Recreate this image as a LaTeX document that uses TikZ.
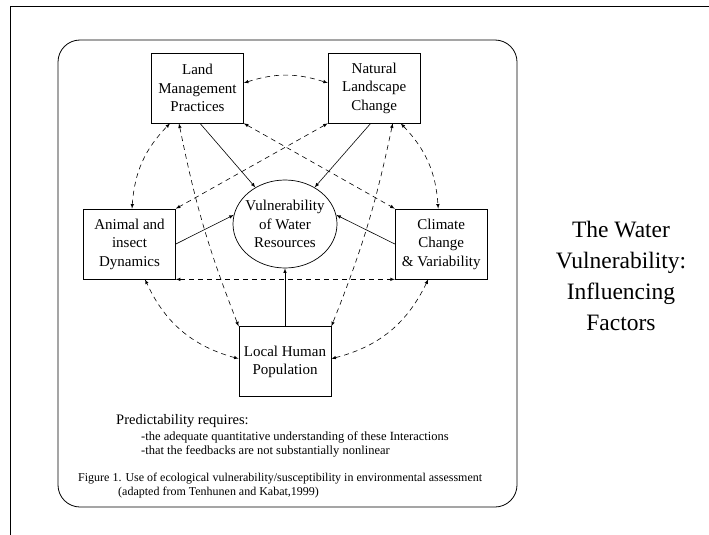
\documentclass[tikz,border=0pt]{standalone}
\usepackage{fontspec}
\setmainfont{Liberation Serif}
\usepackage{tikz}
\usetikzlibrary{positioning}
\usetikzlibrary{shapes.geometric}

\begin{document}
\begin{tikzpicture}[x=1pt, y=-1pt,
    factor/.style={draw, line width=0.7pt, minimum width=92pt, minimum height=70pt, align=center, inner sep=2pt, font=\fontsize{15}{18.5}\selectfont},
    link/.style={line width=0.6pt, -latex},
    feedback/.style={line width=0.6pt, dash pattern=on 5pt off 4pt, latex-latex},
    note/.style={anchor=west, inner sep=0pt}]

    \useasboundingbox (0,0) rectangle (709,535);

    % frame edges and the rounded panel
    \draw [line width=0.8pt] (709,6) -- (10,6) -- (10,535);
    \draw [line width=0.8pt, rounded corners=22pt] (58,40) rectangle (517,507);

    % the ring is its own node so the text may run close to it
    \node [ellipse, draw, line width=0.7pt, minimum width=104pt, minimum height=88pt, inner sep=0pt] (vw) at (285,224) {};
    \node [align=center, inner sep=0pt, font=\fontsize{15}{18.5}\selectfont] (vwt) at (vw.center) {Vulnerability\\of Water\\Resources};

    \node [factor] (lm) at (197.5,88) {Land\\Management\\Practices};
    \node [factor, right=84pt of lm] (nl) {Natural\\Landscape\\Change};
    \node [factor] (ai) at (129.5,244) {Animal and\\insect\\Dynamics};
    \node [factor, right=219pt of ai] (cc) {Climate\\Change\\\& Variability};
    \node [factor, below=58pt of vw] (lh) {Local Human\\Population};
    \draw [line width=1.5pt] (lh.north west) -- (lh.north east);

    % direct influences
    \draw [link] ([xshift=2.5pt]lm.south) -- (vw.129);
    \draw [link] ([xshift=-3.5pt]nl.south) -- (vw.51);
    \draw [link] (ai.east) -- (vw.170);
    \draw [link] (cc.west) -- (vw.10);
    \draw [link] (lh.north) -- (vw.south);

    % feedbacks
    \draw [feedback] ([yshift=5pt]lm.east) to [bend left=18] ([yshift=5pt]nl.east -| nl.west);
    \draw [feedback] (lm.south east) -- (cc.north west);
    \draw [feedback] (nl.south west) -- (ai.north east);
    \draw [feedback] ([xshift=-18.5pt]lm.south) to [bend right=5] (lh.north west);
    \draw [feedback] ([xshift=18.5pt]nl.south) to [bend left=5] (lh.north east);
    \draw [feedback] ([xshift=2.5pt]ai.north) to [bend left=20] ([xshift=-27.5pt]lm.south);
    \draw [feedback] ([xshift=26.5pt]nl.south) to [bend left=20] ([xshift=-3pt]cc.north);
    \draw [feedback] (ai.south east) -- (cc.south west);
    \draw [feedback] ([yshift=3pt]lh.west) to [bend left=25] ([xshift=15.5pt]ai.south);
    \draw [feedback] ([xshift=-13pt]cc.south) to [bend left=25] ([yshift=3pt]lh.east);

    \node [note, font=\fontsize{14.5}{16}\selectfont] (pr) at (116,421) {Predictability requires:};
    \node [note, font=\fontsize{12.5}{14}\selectfont] (q1) at (141,437) {-the adequate quantitative understanding of these Interactions};
    \node [note, font=\fontsize{12.5}{14}\selectfont] (q2) at (141,451) {-that the feedbacks are not substantially nonlinear};
    \node [note, font=\fontsize{12}{14}\selectfont] (fig) at (78,479) {Figure 1. Use of ecological vulnerability/susceptibility in environmental assessment};
    \node [note, font=\fontsize{12}{14}\selectfont] (src) at (118,493) {(adapted from Tenhunen and Kabat,1999)};

    \node [align=center, font=\fontsize{23.5}{31}\selectfont] (ttl) at (621,276) {The Water\\Vulnerability:\\Influencing\\Factors};
\end{tikzpicture}
\end{document}
